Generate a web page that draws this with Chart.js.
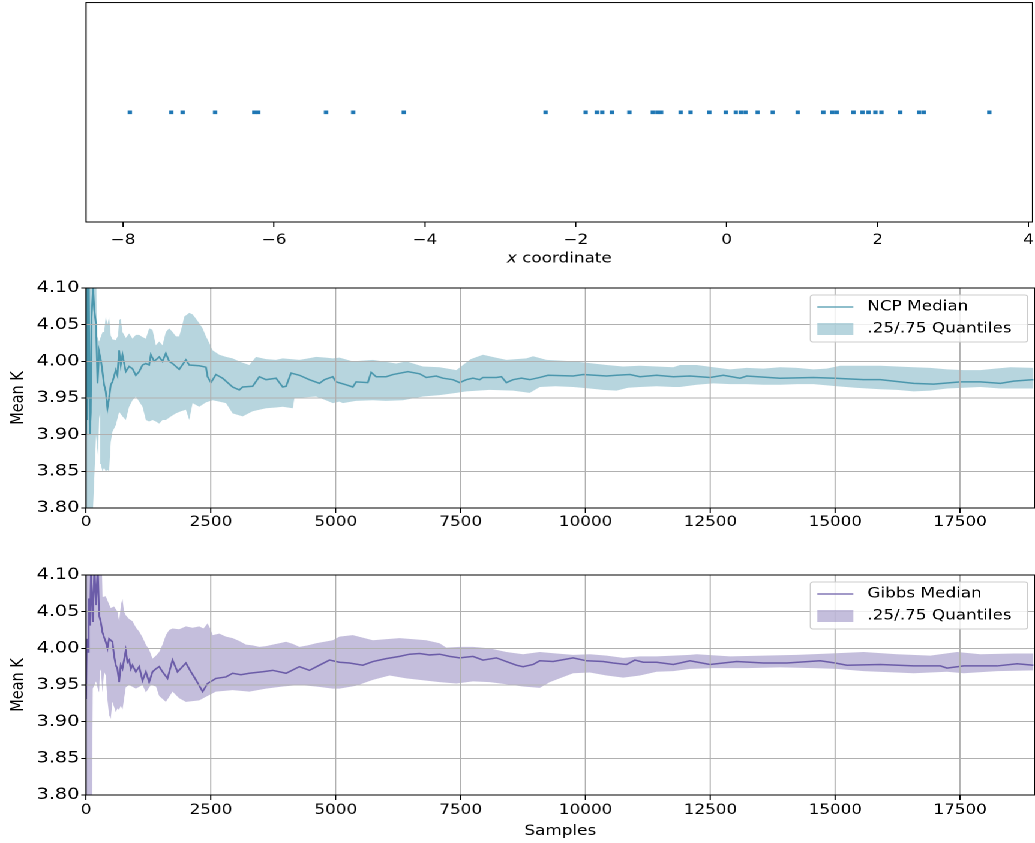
<!DOCTYPE html>
<html>
<head>
<meta charset="utf-8">
<title>Mean K convergence</title>
<script src="https://cdn.jsdelivr.net/npm/chart.js@4/dist/chart.umd.min.js"></script>
<style>
  html, body { margin: 0; padding: 0; background: #ffffff; }
  /* the figure is laid out 1.2x narrower and stretched back to full width */
  #stage { position: absolute; left: 0; top: 0; width: 862.5px; height: 843px;
           transform: scaleX(1.2); transform-origin: 0 0; }
  .panel { position: absolute; left: 0; width: 862.5px; }
</style>
</head>
<body>
<div id="stage">
  <div class="panel" style="top:0;height:270px"><canvas id="strip"></canvas></div>
  <div class="panel" style="top:270px;height:265px"><canvas id="ncp"></canvas></div>
  <div class="panel" style="top:555px;height:288px"><canvas id="gibbs"></canvas></div>
</div>
<script>
// ---- data -------------------------------------------------------------
// observed x coordinates (strip plot)
const stripX = [-7.91, -7.36, -7.21, -6.78, -6.26, -6.21, -5.31, -4.95, -4.28, -2.40,
  -1.87, -1.72, -1.65, -1.52, -1.29, -0.98, -0.92, -0.87, -0.61, -0.48, -0.23, -0.01,
  0.12, 0.19, 0.25, 0.41, 0.61, 0.94, 1.28, 1.40, 1.46, 1.68, 1.80, 1.88, 1.97, 2.05,
  2.30, 2.55, 2.61, 3.48];
const stripTicks = [-8, -6, -4, -2, 0, 2, 4];

// [sample, mean K] pairs
const ncpMedian = [[0,3.90],[10,4.10],[20,3.92],[30,4.08],[45,3.95],[55,4.11],[75,3.90],[94,3.93],
  [110,4.06],[140,4.10],[165,4.07],[200,4.05],[230,3.97],[261,4.013],[300,4.00],[328,3.986],
  [361,3.968],[394,3.959],[428,3.936],[461,3.950],[494,3.968],[528,3.972],[595,3.988],[628,3.981],
  [662,4.015],[695,3.995],[729,4.009],[795,3.986],[862,3.993],[929,3.990],[996,3.981],[1063,3.986],
  [1129,3.995],[1197,3.997],[1263,3.995],[1297,4.009],[1363,4.000],[1464,4.006],[1530,4.000],
  [1597,4.011],[1664,4.000],[1731,3.997],[1800,3.993],[1865,3.989],[1999,4.002],[2066,3.995],
  [2266,3.994],[2400,3.992],[2433,3.979],[2500,3.971],[2600,3.982],[2734,3.977],[2934,3.965],
  [3068,3.961],[3135,3.965],[3335,3.966],[3469,3.979],[3603,3.975],[3803,3.977],[3937,3.965],
  [4004,3.966],[4104,3.984],[4271,3.981],[4471,3.975],[4672,3.970],[4772,3.975],[4939,3.979],
  [5006,3.972],[5207,3.968],[5340,3.965],[5407,3.972],[5641,3.971],[5708,3.985],[5808,3.979],
  [6009,3.979],[6142,3.982],[6443,3.986],[6677,3.983],[6811,3.978],[7011,3.980],[7144,3.977],
  [7345,3.975],[7479,3.971],[7612,3.975],[7746,3.977],[7880,3.975],[7946,3.978],[8214,3.978],
  [8315,3.979],[8415,3.971],[8548,3.975],[8715,3.977],[8882,3.975],[9083,3.978],[9249,3.981],
  [9751,3.980],[9951,3.982],[10420,3.980],[10620,3.981],[10887,3.982],[11088,3.979],[11422,3.981],
  [11756,3.979],[12090,3.980],[12491,3.978],[12758,3.981],[13093,3.977],[13227,3.980],[13895,3.977],
  [14563,3.978],[14997,3.977],[15565,3.975],[15900,3.975],[16568,3.970],[16968,3.969],[17503,3.972],
  [17904,3.972],[18305,3.970],[18572,3.973],[18967,3.975]];

const ncpUpper = [[0,4.16],[200,4.16],[214,4.036],[260,4.027],[330,4.040],[361,4.040],[394,4.061],
  [430,4.050],[461,4.061],[494,4.035],[528,4.030],[595,4.029],[640,4.035],[662,4.056],[695,4.058],
  [729,4.040],[796,4.032],[862,4.038],[929,4.031],[996,4.036],[1063,4.036],[1130,4.033],[1197,4.031],
  [1263,4.045],[1330,4.043],[1397,4.022],[1464,4.027],[1530,4.022],[1597,4.040],[1664,4.045],
  [1731,4.040],[1800,4.034],[1865,4.034],[1930,4.050],[1965,4.061],[2066,4.066],[2133,4.064],
  [2200,4.058],[2266,4.052],[2333,4.045],[2400,4.034],[2467,4.025],[2534,4.015],[2600,4.012],
  [2667,4.009],[2800,4.006],[2934,4.004],[3100,3.999],[3269,3.995],[3402,4.006],[3603,4.003],
  [3800,4.002],[3937,4.004],[4100,4.003],[4271,4.002],[4450,4.004],[4605,4.006],[4800,4.005],
  [4939,4.004],[5073,4.005],[5340,4.000],[5741,4.002],[6209,3.997],[6410,4.000],[6744,3.993],
  [7078,3.992],[7412,3.988],[7546,3.995],[7700,4.003],[7946,4.009],[8200,4.005],[8415,4.002],
  [8815,4.004],[8949,4.007],[9217,4.002],[9500,4.001],[9751,4.000],[10018,3.998],[10420,3.995],
  [10750,3.993],[11088,3.994],[11422,3.993],[11756,3.992],[11890,3.995],[12224,3.995],[12558,3.992],
  [12892,3.989],[13227,3.991],[13560,3.990],[13895,3.992],[14230,3.991],[14563,3.989],[14830,3.990],
  [15097,3.994],[15500,3.994],[15900,3.994],[16233,3.993],[16568,3.992],[16900,3.991],[17236,3.989],
  [17570,3.988],[17904,3.988],[18200,3.990],[18506,3.992],[18967,3.991]];

const ncpLower = [[0,3.70],[110,3.72],[140,3.80],[170,3.85],[200,3.90],[240,3.87],[261,3.922],
  [280,3.93],[294,3.86],[328,3.85],[361,3.855],[394,3.85],[428,3.852],[461,3.85],[494,3.89],
  [528,3.904],[595,3.913],[662,3.931],[729,3.925],[796,3.92],[862,3.938],[929,3.947],[996,3.952],
  [1063,3.945],[1130,3.938],[1197,3.92],[1263,3.918],[1330,3.920],[1397,3.918],[1464,3.915],
  [1530,3.920],[1598,3.920],[1700,3.925],[1798,3.929],[1900,3.932],[1999,3.934],[2066,3.920],
  [2133,3.943],[2266,3.938],[2400,3.944],[2534,3.947],[2667,3.945],[2801,3.943],[2934,3.929],
  [3135,3.925],[3335,3.932],[3469,3.934],[3603,3.936],[3800,3.937],[3937,3.938],[4138,3.936],
  [4171,3.950],[4400,3.951],[4605,3.952],[4800,3.947],[4939,3.943],[5073,3.945],[5140,3.943],
  [5400,3.946],[5741,3.947],[6000,3.946],[6343,3.947],[6744,3.952],[7078,3.954],[7412,3.957],
  [7612,3.959],[8080,3.961],[8548,3.960],[8882,3.957],[9083,3.965],[9400,3.966],[9751,3.965],
  [10085,3.963],[10350,3.961],[10620,3.960],[10850,3.964],[11088,3.965],[11422,3.966],[11756,3.965],
  [11890,3.965],[12224,3.968],[12558,3.970],[12892,3.969],[13227,3.969],[13560,3.968],[13895,3.968],
  [14230,3.969],[14563,3.969],[15030,3.966],[15400,3.964],[15900,3.962],[16233,3.961],[16568,3.959],
  [16900,3.960],[17236,3.963],[17570,3.964],[17904,3.965],[18305,3.963],[18600,3.963],[18967,3.963]];

const gibbsMedian = [[0,3.931],[13,4.013],[33,3.995],[53,4.068],[80,4.031],[100,4.11],[134,4.036],
  [167,4.11],[200,4.059],[234,4.11],[261,4.045],[294,4.036],[328,4.022],[361,4.015],[394,4.009],
  [428,4.000],[461,4.013],[528,4.009],[561,3.990],[595,3.977],[628,3.972],[662,3.954],[695,3.977],
  [729,3.972],[795,3.997],[829,3.981],[862,3.984],[896,3.972],[929,3.977],[996,3.968],[1063,3.975],
  [1130,3.956],[1197,3.968],[1263,3.954],[1330,3.968],[1397,3.972],[1464,3.975],[1530,3.968],
  [1631,3.959],[1731,3.984],[1831,3.968],[1999,3.980],[2099,3.968],[2199,3.957],[2333,3.941],
  [2433,3.952],[2600,3.959],[2801,3.961],[2934,3.966],[3100,3.964],[3269,3.966],[3400,3.967],
  [3536,3.968],[3736,3.970],[4004,3.966],[4271,3.975],[4472,3.970],[4672,3.977],[4873,3.984],
  [5073,3.981],[5273,3.980],[5540,3.977],[5741,3.982],[6009,3.986],[6276,3.989],[6476,3.992],
  [6677,3.993],[6877,3.991],[7078,3.992],[7278,3.989],[7479,3.987],[7746,3.989],[7946,3.984],
  [8214,3.987],[8415,3.982],[8615,3.977],[8748,3.975],[8949,3.978],[9083,3.983],[9350,3.982],
  [9751,3.987],[10018,3.983],[10352,3.982],[10553,3.980],[10820,3.978],[10987,3.984],[11154,3.981],
  [11422,3.981],[11756,3.978],[12090,3.983],[12491,3.978],[13026,3.982],[13560,3.980],[14029,3.980],
  [14697,3.983],[14997,3.980],[15232,3.977],[15900,3.978],[16568,3.976],[17103,3.976],[17236,3.973],
  [17570,3.976],[18239,3.976],[18640,3.979],[18967,3.977]];

const gibbsUpper = [[0,4.16],[300,4.16],[330,4.07],[394,4.071],[461,4.06],[494,4.055],[561,4.057],
  [628,4.050],[662,4.037],[700,4.060],[729,4.068],[760,4.050],[796,4.045],[862,4.040],[929,4.037],
  [1000,4.028],[1063,4.023],[1130,4.015],[1197,4.005],[1263,3.998],[1330,3.986],[1400,3.990],
  [1464,3.995],[1530,4.005],[1598,4.018],[1664,4.025],[1731,4.027],[1865,4.026],[1999,4.030],
  [2133,4.028],[2266,4.030],[2350,4.027],[2433,4.034],[2500,4.025],[2534,4.018],[2667,4.020],
  [2800,4.016],[2934,4.014],[3068,4.010],[3202,4.005],[3335,4.004],[3469,4.002],[3603,4.003],
  [3736,4.005],[3870,4.007],[4004,4.009],[4138,4.006],[4271,4.002],[4438,4.004],[4605,4.007],
  [4772,4.009],[4939,4.011],[5073,4.016],[5340,4.018],[5741,4.011],[6276,4.014],[6811,4.011],
  [7078,4.007],[7211,4.001],[7479,4.002],[7746,4.002],[8080,4.000],[8415,3.995],[8748,3.992],
  [9083,3.995],[9417,3.993],[9751,3.991],[10085,3.992],[10420,3.990],[10754,3.987],[11088,3.989],
  [11422,3.989],[11756,3.990],[12090,3.991],[12224,3.992],[12892,3.989],[13560,3.990],[14230,3.991],
  [14897,3.993],[15565,3.995],[16233,3.992],[16901,3.990],[17437,3.995],[17904,3.992],[18572,3.993],
  [18967,3.993]];

const gibbsLower = [[0,3.70],[100,3.70],[120,3.80],[134,3.945],[200,3.955],[234,3.945],[261,3.940],
  [280,3.972],[300,3.968],[328,3.940],[361,3.968],[394,3.963],[428,3.930],[461,3.909],[494,3.904],
  [528,3.927],[595,3.913],[628,3.918],[662,3.916],[695,3.922],[729,3.916],[795,3.947],[862,3.950],
  [996,3.945],[1130,3.950],[1197,3.940],[1297,3.950],[1400,3.948],[1464,3.935],[1598,3.927],
  [1731,3.941],[1865,3.932],[1999,3.927],[2266,3.929],[2400,3.934],[2600,3.941],[2934,3.943],
  [3269,3.941],[3603,3.945],[3937,3.948],[4271,3.950],[4605,3.948],[4939,3.945],[5073,3.945],
  [5407,3.949],[5741,3.957],[6076,3.963],[6410,3.959],[7078,3.954],[7412,3.952],[7746,3.955],
  [8080,3.954],[8415,3.951],[8748,3.948],[9083,3.946],[9283,3.954],[9751,3.966],[10085,3.967],
  [10420,3.963],[10754,3.960],[11088,3.963],[11422,3.968],[11756,3.969],[12090,3.972],[12558,3.973],
  [13227,3.973],[13895,3.974],[14563,3.973],[15030,3.972],[15565,3.969],[16568,3.966],[17236,3.968],
  [17570,3.966],[18239,3.969],[18967,3.970]];

const sampleTicks = [0, 2500, 5000, 7500, 10000, 12500, 15000, 17500];
const meanKTicks = [3.80, 3.85, 3.90, 3.95, 4.00, 4.05, 4.10];

// ---- styling ------------------------------------------------------------
const FONT = "'DejaVu Sans', 'Liberation Sans', sans-serif";
const AXIS_W = 71.67;          // width reserved for the y axis
const NCP_COLOR = '#4b97ad';
const GIBBS_COLOR = '#6b5ca8';
const rgba = (hex, a) => {
  const n = parseInt(hex.slice(1), 16);
  return `rgba(${(n >> 16) & 255},${(n >> 8) & 255},${n & 255},${a})`;
};
const toXY = pairs => pairs.map(([x, y]) => ({ x, y }));
const minusFmt = v => (v < 0 ? '\u2212' + Math.abs(v) : String(v));

Chart.defaults.font.family = FONT;
Chart.defaults.font.size = 14;
Chart.defaults.color = '#000000';

// black box around the plotting area (all four spines)
const framePlugin = {
  id: 'frame',
  afterDraw(chart) {
    const { ctx, chartArea: a } = chart;
    ctx.save();
    ctx.strokeStyle = '#000000';
    ctx.lineWidth = 1;
    ctx.strokeRect(a.left, a.top, a.right - a.left, a.bottom - a.top);
    ctx.restore();
  }
};

// x-axis caption built from plain and italic pieces
const captionPlugin = {
  id: 'caption',
  afterDraw(chart, args, opts) {
    if (!opts || !opts.parts) return;
    const { ctx, chartArea: a } = chart;
    ctx.save();
    ctx.fillStyle = '#000000';
    ctx.textBaseline = 'alphabetic';
    const fontOf = p => (p.italic ? 'oblique ' : '') + '14px ' + FONT;
    let total = 0;
    opts.parts.forEach(p => { ctx.font = fontOf(p); total += ctx.measureText(p.text).width; });
    let x = (a.left + a.right) / 2 - total / 2;
    opts.parts.forEach(p => {
      ctx.font = fontOf(p);
      ctx.fillText(p.text, x, opts.baseline);
      x += ctx.measureText(p.text).width;
    });
    ctx.restore();
  }
};

// legend box: median line + quantile band patch
const bandLegendPlugin = {
  id: 'bandLegend',
  afterDraw(chart, args, opts) {
    if (!opts || !opts.show) return;
    const { ctx, chartArea: a } = chart;
    const med = chart.data.datasets[0];
    const band = chart.data.datasets[1];
    const w = 181, h = 47, r = 2.5;
    const x0 = a.right - 5.8 - w, y0 = a.top + 7;
    ctx.save();
    ctx.beginPath();
    ctx.moveTo(x0 + r, y0);
    ctx.lineTo(x0 + w - r, y0);
    ctx.quadraticCurveTo(x0 + w, y0, x0 + w, y0 + r);
    ctx.lineTo(x0 + w, y0 + h - r);
    ctx.quadraticCurveTo(x0 + w, y0 + h, x0 + w - r, y0 + h);
    ctx.lineTo(x0 + r, y0 + h);
    ctx.quadraticCurveTo(x0, y0 + h, x0, y0 + h - r);
    ctx.lineTo(x0, y0 + r);
    ctx.quadraticCurveTo(x0, y0, x0 + r, y0);
    ctx.closePath();
    ctx.fillStyle = 'rgba(255,255,255,0.8)';
    ctx.fill();
    ctx.strokeStyle = '#cccccc';
    ctx.lineWidth = 1;
    ctx.stroke();

    ctx.strokeStyle = med.borderColor;
    ctx.lineWidth = 1.3;
    ctx.beginPath();
    ctx.moveTo(x0 + 5.8, y0 + 12);
    ctx.lineTo(x0 + 35.8, y0 + 12);
    ctx.stroke();

    ctx.fillStyle = band.backgroundColor;
    ctx.fillRect(x0 + 5.8, y0 + 28, 30, 12);

    ctx.fillStyle = '#000000';
    ctx.font = '14px ' + FONT;
    ctx.textBaseline = 'middle';
    ctx.textAlign = 'left';
    ctx.fillText(med.label, x0 + 47.5, y0 + 12);
    ctx.fillText(band.label, x0 + 47.5, y0 + 34);
    ctx.restore();
  }
};

// ---- strip plot of x coordinates ---------------------------------------
new Chart(document.getElementById('strip'), {
  type: 'scatter',
  data: {
    datasets: [{
      data: stripX.map(x => ({ x, y: 0 })),
      pointStyle: 'rect',
      pointRadius: 2.55,
      pointHoverRadius: 2.55,
      borderWidth: 0,
      backgroundColor: '#1f77b4',
      borderColor: '#1f77b4'
    }]
  },
  options: {
    responsive: true,
    maintainAspectRatio: false,
    animation: false,
    devicePixelRatio: 2,
    layout: { padding: { left: 0, right: 0.83, top: 1, bottom: 0 } },
    plugins: {
      legend: { display: false },
      tooltip: { enabled: false },
      caption: { parts: [{ text: 'x', italic: true }, { text: ' coordinate' }], baseline: 262.5 }
    },
    scales: {
      x: {
        type: 'linear', min: -8.49, max: 4.053,
        afterBuildTicks: s => { s.ticks = stripTicks.map(v => ({ value: v })); },
        afterFit: s => { s.height = 48; s.paddingLeft = 0; s.paddingRight = 0; },
        ticks: { callback: v => minusFmt(v), padding: 5, maxRotation: 0, autoSkip: false },
        grid: { display: true, drawOnChartArea: false, drawTicks: true, tickLength: 5, tickColor: '#000000' },
        border: { display: false }
      },
      y: {
        type: 'linear', min: -1, max: 1,
        afterFit: s => { s.width = AXIS_W; s.paddingTop = 0; s.paddingBottom = 0; },
        ticks: { display: false },
        grid: { display: false },
        border: { display: false }
      }
    }
  },
  plugins: [framePlugin, captionPlugin]
});

// ---- median / quantile panels -----------------------------------------
function quantilePanel(canvasId, color, medLabel, median, upper, lower, opt) {
  return new Chart(document.getElementById(canvasId), {
    type: 'line',
    data: {
      datasets: [
        { label: medLabel, data: toXY(median), borderColor: color, borderWidth: 1.5,
          pointRadius: 0, fill: false, tension: 0, clip: 0 },
        { label: '.25/.75 Quantiles', data: toXY(upper), borderWidth: 0, borderColor: 'rgba(0,0,0,0)',
          backgroundColor: rgba(color, 0.4), pointRadius: 0, tension: 0, fill: { target: 2 }, clip: 0 },
        { label: 'lower', data: toXY(lower), borderWidth: 0, borderColor: 'rgba(0,0,0,0)',
          pointRadius: 0, tension: 0, fill: false, clip: 0 }
      ]
    },
    options: {
      responsive: true,
      maintainAspectRatio: false,
      animation: false,
      devicePixelRatio: 2,
      layout: { padding: { left: 0, right: 0.83, top: opt.padTop, bottom: 0 } },
      plugins: {
        legend: { display: false },
        tooltip: { enabled: false },
        bandLegend: { show: true },
        caption: opt.caption || {}
      },
      scales: {
        x: {
          type: 'linear', min: 0, max: 18990,
          afterBuildTicks: s => { s.ticks = sampleTicks.map(v => ({ value: v })); },
          afterFit: s => { s.height = opt.xHeight; s.paddingLeft = 0; s.paddingRight = 0; },
          ticks: { callback: v => String(v), padding: opt.tickPad, maxRotation: 0, autoSkip: false },
          grid: { color: '#b0b0b0', lineWidth: 1, tickColor: '#000000', tickLength: 5, z: 1 },
          border: { display: false }
        },
        y: {
          type: 'linear', min: 3.8, max: 4.1,
          afterBuildTicks: s => { s.ticks = meanKTicks.map(v => ({ value: v })); },
          afterFit: s => { s.width = AXIS_W; s.paddingTop = 0; s.paddingBottom = 0; },
          ticks: { callback: v => v.toFixed(2), padding: 1.5, autoSkip: false, font: { size: 16 } },
          grid: { color: '#b0b0b0', lineWidth: 1, tickColor: '#000000', tickLength: 4, z: 1 },
          border: { display: false },
          title: { display: true, text: 'Mean K', font: { size: 14.5 }, padding: { top: 6.6, bottom: 0 } }
        }
      }
    },
    plugins: [framePlugin, captionPlugin, bandLegendPlugin]
  });
}

quantilePanel('ncp', NCP_COLOR, 'NCP Median', ncpMedian, ncpUpper, ncpLower,
  { padTop: 18, xHeight: 27, tickPad: 1 });
quantilePanel('gibbs', GIBBS_COLOR, 'Gibbs Median', gibbsMedian, gibbsUpper, gibbsLower,
  { padTop: 20, xHeight: 48, tickPad: 2, caption: { parts: [{ text: 'Samples' }], baseline: 280 } });
</script>
</body>
</html>
